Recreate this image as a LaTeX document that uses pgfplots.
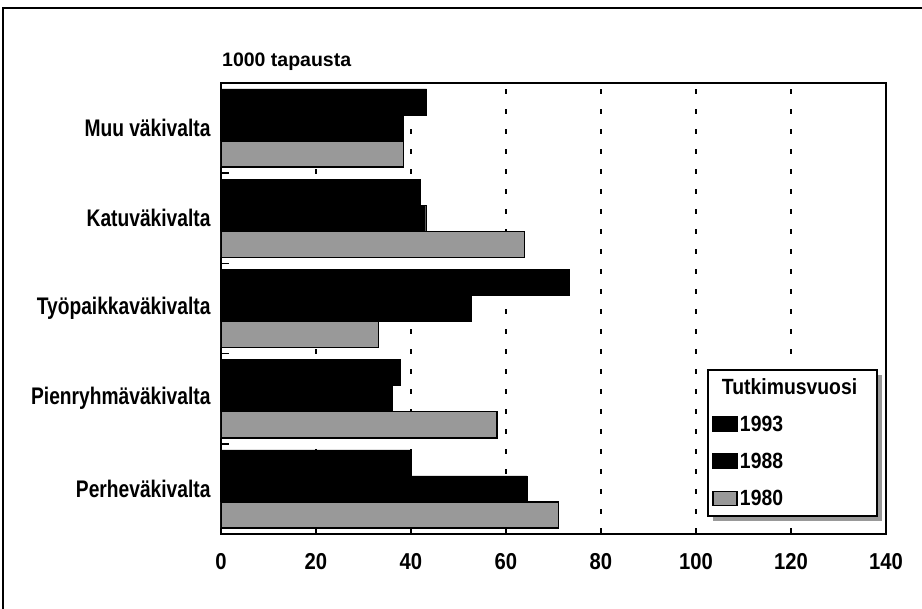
\documentclass[border=0pt]{standalone}
\usepackage{fontspec}
\setmainfont{Liberation Sans}[FakeStretch=0.8]
\newfontfamily\tickfont{Liberation Sans}[FakeStretch=0.88]
\newfontfamily\plainfont{Liberation Sans}
\usepackage{pgfplots}
\pgfplotsset{compat=1.18}
\usetikzlibrary{shadows}
\makeatletter
\tikzset{no preaction/.code={\let\tikz@preactions\pgfutil@empty}}
\makeatother
\newcommand{\lbl}{\bfseries\fontsize{24}{26}\selectfont}
\newcommand{\tkl}{\tickfont\bfseries\fontsize{23}{25}\selectfont}
\newcommand{\lgl}{\tickfont\bfseries\fontsize{22}{24}\selectfont}
\begin{document}
\begin{tikzpicture}[x=1pt,y=1pt]
\path[use as bounding box] (0,0) rectangle (922,609);
\draw[line width=2.5pt] (3,0) -- (3,601) -- (922,601);
\node[anchor=base west, font=\plainfont\bfseries\fontsize{19.5}{21}\selectfont, inner sep=0pt] at (222,542) {1000 tapausta};
\begin{axis}[
  at={(221pt,75pt)}, anchor=south west, scale only axis,
  width=665pt, height=451pt,
  xbar, bar width=0.289,
  xmin=0, xmax=140, ymin=-0.5, ymax=4.5,
  xtick={0,20,...,140},
  ytick={0,1,2,3,4},
  yticklabels={Perheväkivalta, Pienryhmäväkivalta, Työpaikkaväkivalta, Katuväkivalta, Muu väkivalta},
  minor ytick={-0.5,0.5,...,4.5},
  major y tick style={draw=none},
  tick align=inside,
  xtick pos=bottom, ytick pos=left,
  major tick length=6pt, minor tick length=8pt,
  tick style={line width=1.5pt, black},
  axis line style={line width=2pt},
  xmajorgrids,
  major x grid style={dash pattern=on 5pt off 15pt, line width=1.8pt, black},
  /pgf/number format/assume math mode=true,
  xticklabel style={font=\tkl, yshift=-16pt},
  yticklabel style={font=\lbl, xshift=-7pt},
  legend image code/.code={\draw[no preaction,#1] (0pt,-7pt) rectangle (24pt,7pt);},
  legend cell align=left,
  legend style={at={(0.7308,0.0377)}, anchor=south west, draw=black, line width=2pt,
    fill=white, inner xsep=4pt, inner ysep=8pt, row sep=18pt, font=\lgl,
    drop shadow={shadow xshift=5pt, shadow yshift=-5pt, fill=black!40, opacity=1},
    nodes={inner sep=2pt, text height=15pt, text depth=0pt}},
]
\addlegendimage{empty legend}
\addlegendentry{\hspace*{-18pt}Tutkimusvuosi\hspace*{14pt}}
\addplot[fill=black, draw=black, bar shift=0.289] coordinates {(40.1,0) (37.8,1) (73.3,2) (41.9,3) (43.3,4)};
\addlegendentry{1993}
\addplot[fill=black, draw=black, bar shift=0] coordinates {(64.4,0) (36.0,1) (52.6,2) (43.1,3) (38.4,4)};
\addlegendentry{1988}
\addplot[fill=black!40, draw=black, line width=1.5pt, bar shift=-0.289] coordinates {(71.0,0) (58.1,1) (33.2,2) (63.9,3) (38.4,4)};
\addlegendentry{1980}
\end{axis}
\end{tikzpicture}
\end{document}
